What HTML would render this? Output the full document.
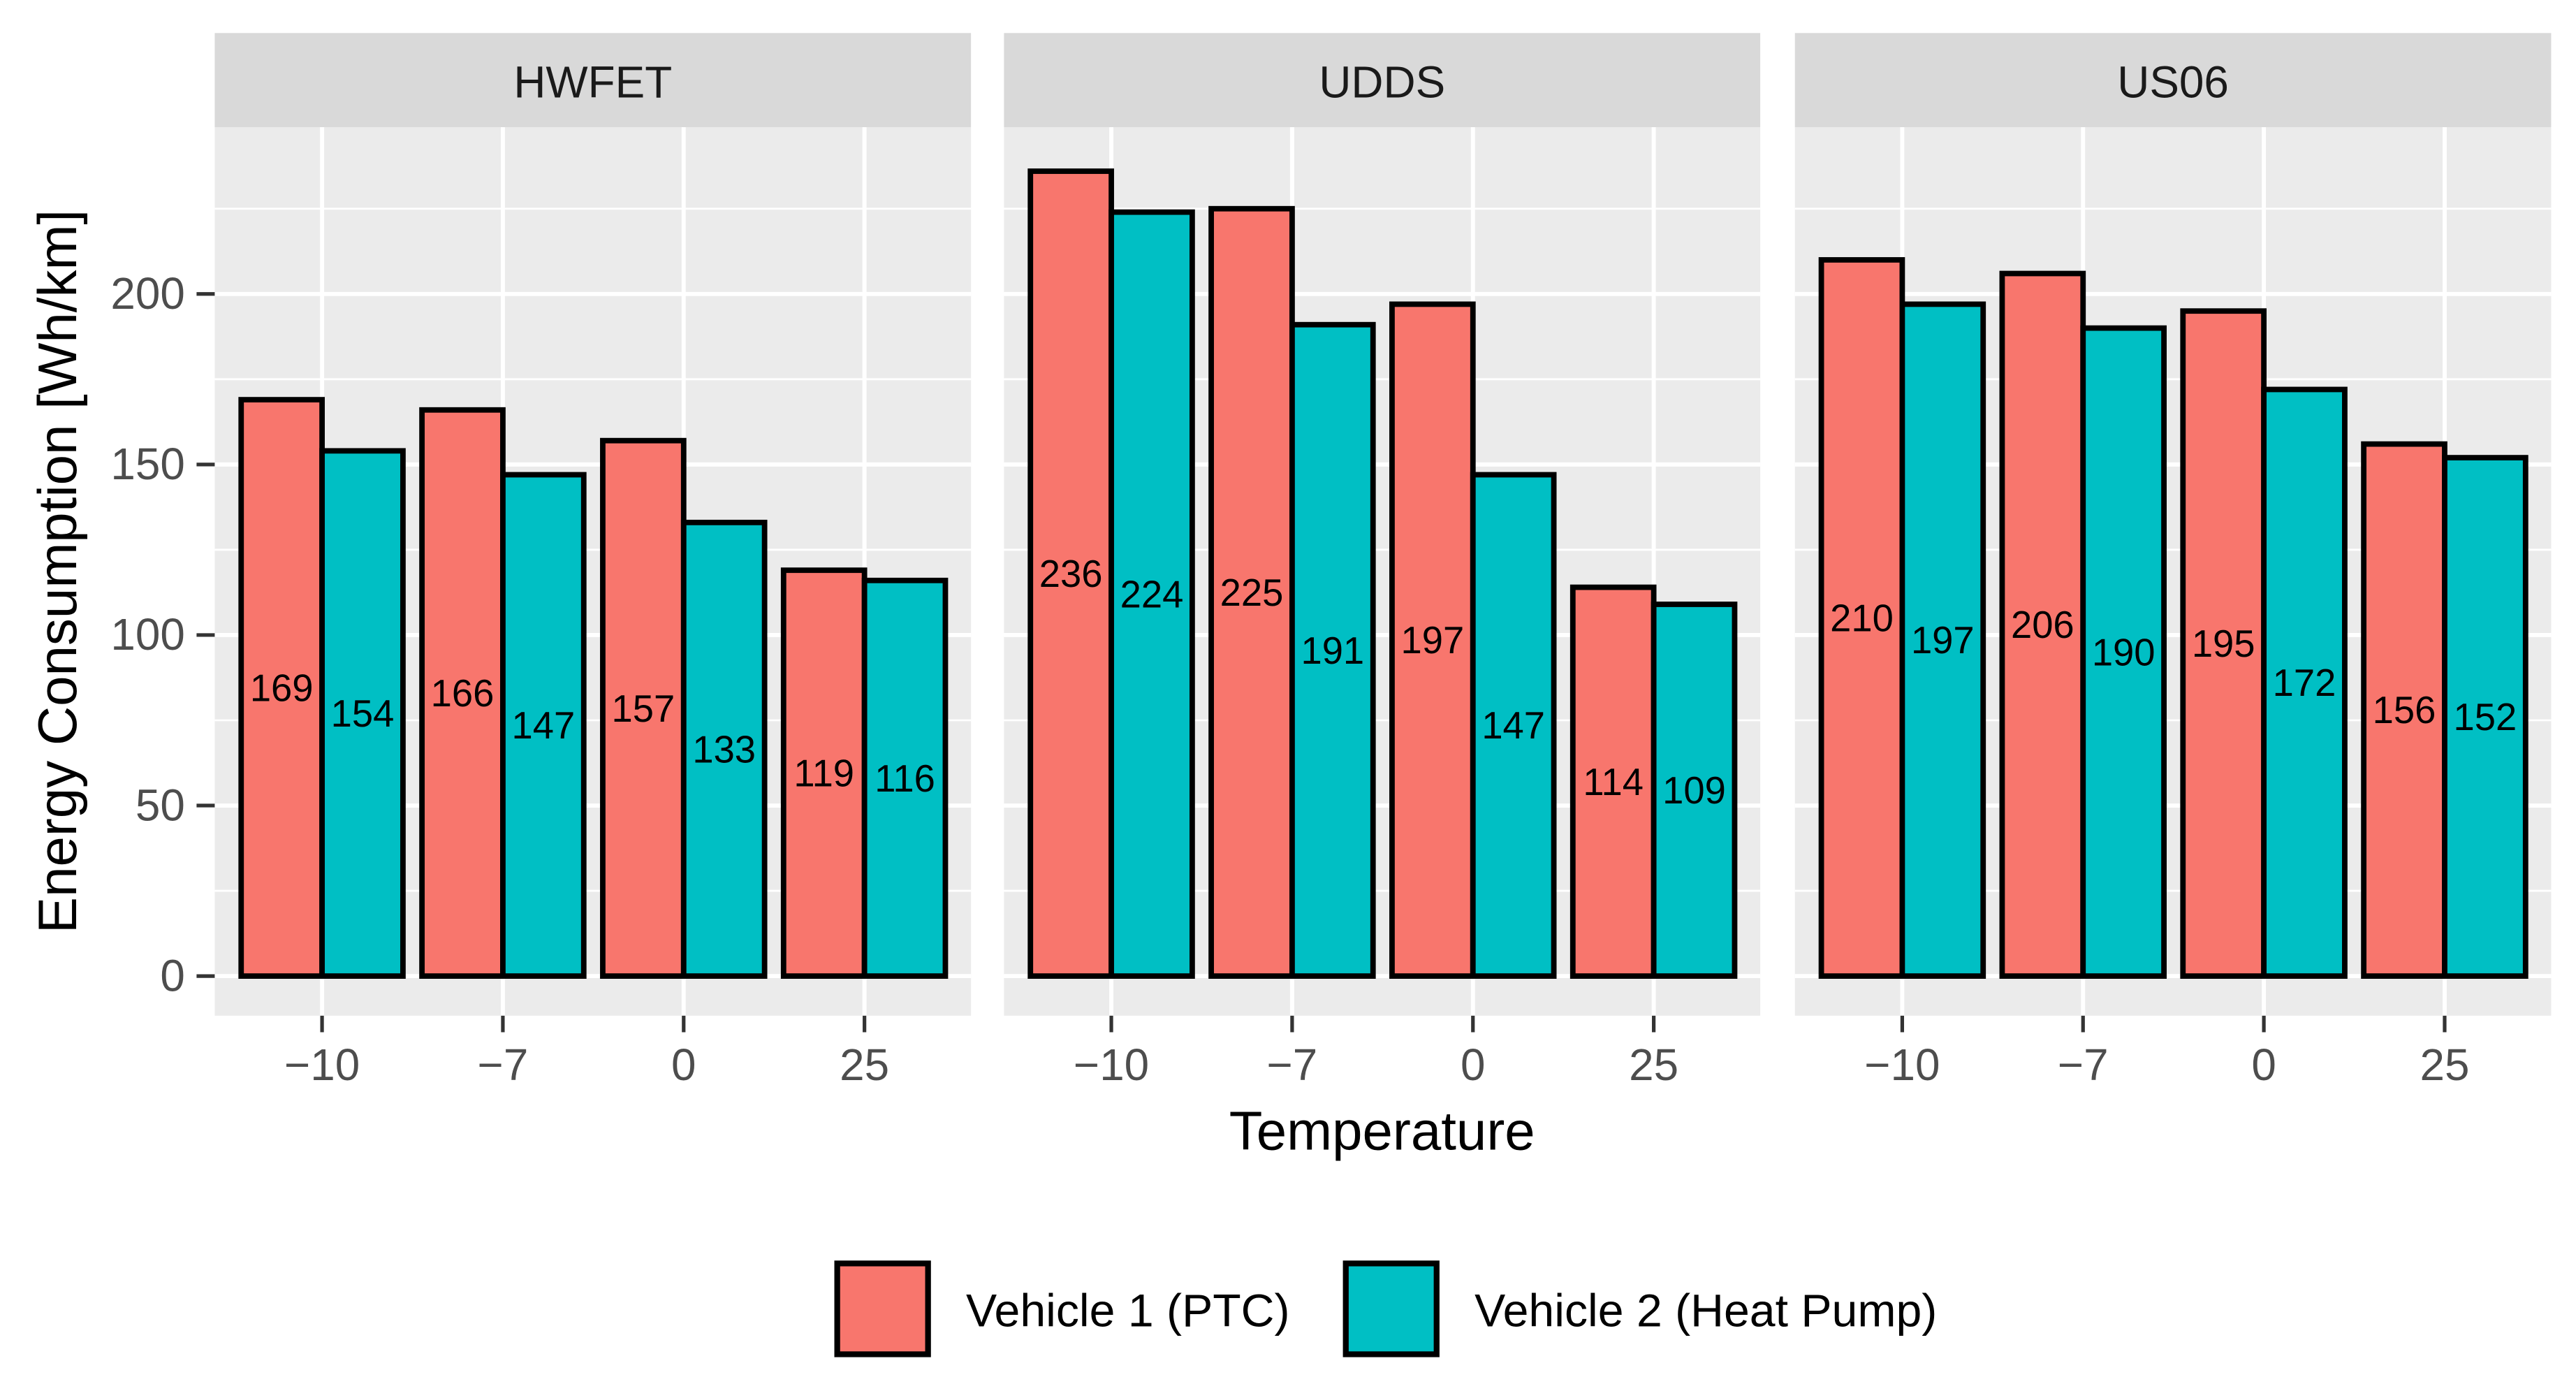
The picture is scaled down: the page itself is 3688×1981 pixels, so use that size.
<!DOCTYPE html>
<html><head><meta charset="utf-8"><style>
html,body{margin:0;padding:0;background:#fff;}
svg{display:block;font-family:"Liberation Sans",Arial,sans-serif;}
</style></head><body>
<svg id="chart" width="3688" height="1981" viewBox="0 0 1560 838" xmlns="http://www.w3.org/2000/svg">
<g id="plot"></g>
<text x="0" y="0" transform="translate(46,346) rotate(-90)" text-anchor="middle" font-size="33" fill="#000">Energy Consumption [Wh/km]</text>
<text x="837" y="696" text-anchor="middle" font-size="33" fill="#000">Temperature</text>
<g>
<rect x="507" y="765" width="55" height="55" fill="#F8766D" stroke="#000" stroke-width="3.5"/>
<text x="585" y="803" font-size="28" fill="#000">Vehicle 1 (PTC)</text>
<rect x="815" y="765" width="55" height="55" fill="#00BFC4" stroke="#000" stroke-width="3.5"/>
<text x="893" y="803" font-size="28" fill="#000">Vehicle 2 (Heat Pump)</text>
</g>
</svg>
<script>
const panels = ["HWFET", "UDDS", "US06"];
const categories = ["\u221210", "\u22127", "0", "25"];
const ptcValues = [[169,166,157,119],[236,225,197,114],[210,206,195,156]];
const heatPumpValues = [[154,147,133,116],[224,191,147,109],[197,190,172,152]];
const yTicks = [0, 50, 100, 150, 200];
const yMinor = [25, 75, 125, 175, 225];

const NS = "http://www.w3.org/2000/svg";
const plot = document.getElementById("plot");
const panelX = [130, 608, 1087], panelW = 458;
const stripTop = 20, stripBot = 77, panelBot = 615;
const y0 = 591, pxPerUnit = (591 - 178) / 200;
function yScale(v){ return y0 - v * pxPerUnit; }
function xScale(p, i){ return panelX[p] + 65 + i * 109.5; }
function mk(tag, attrs, parent){
  const e = document.createElementNS(NS, tag);
  for (const k in attrs) e.setAttribute(k, attrs[k]);
  (parent || plot).appendChild(e);
  return e;
}
const bw = 49;
panels.forEach((name, p) => {
  const g = mk("g", {});
  
  
  const strip = mk("rect", {x: panelX[p], y: stripTop, width: panelW, height: stripBot - stripTop, fill: "#D9D9D9"}, g);
  
  
  const st = mk("text", {x: panelX[p] + panelW/2, y: 59, "text-anchor": "middle", "font-size": 27, fill: "#1a1a1a"}, g);
  st.textContent = name;
  
  
  const bg = mk("rect", {x: panelX[p], y: stripBot, width: panelW, height: panelBot - stripBot, fill: "#EBEBEB"}, g);
  
  
  yMinor.forEach(v => {
    const l = mk("line", {x1: panelX[p], x2: panelX[p] + panelW, y1: yScale(v), y2: yScale(v), stroke: "#fff", "stroke-width": 1.2}, g);
    
    
  });
  yTicks.forEach(v => {
    const l = mk("line", {x1: panelX[p], x2: panelX[p] + panelW, y1: yScale(v), y2: yScale(v), stroke: "#fff", "stroke-width": 2.5}, g);
    
    
  });
  categories.forEach((c, i) => {
    const x = xScale(p, i);
    const l = mk("line", {x1: x, x2: x, y1: stripBot, y2: panelBot, stroke: "#fff", "stroke-width": 2.5}, g);
    
    
    const t = mk("line", {x1: x, x2: x, y1: panelBot, y2: panelBot + 10, stroke: "#333", "stroke-width": 2.2}, g);
    
    
    const tl = mk("text", {x: x, y: 654, "text-anchor": "middle", "font-size": 27, fill: "#4d4d4d"}, g);
    tl.textContent = c;
    
    
    [[ptcValues[p][i], "#F8766D", x - bw, "ptc"], [heatPumpValues[p][i], "#00BFC4", x, "heat-pump"]].forEach(([v, col, bx, s]) => {
      const r = mk("rect", {x: bx, y: yScale(v), width: bw, height: y0 - yScale(v), fill: col, stroke: "#000", "stroke-width": 3.3}, g);
      
      
      const lab = mk("text", {x: bx + bw/2, y: yScale(v/2) + 8, "text-anchor": "middle", "font-size": 23, fill: "#000"}, g);
      lab.textContent = v;
      
      
    });
  });
});
yTicks.forEach(v => {
  const t = mk("line", {x1: 119, x2: 130, y1: yScale(v), y2: yScale(v), stroke: "#333", "stroke-width": 2.2});
  
  
  const tl = mk("text", {x: 112, y: yScale(v) + 9, "text-anchor": "end", "font-size": 27, fill: "#4d4d4d"});
  tl.textContent = v;
  
  
});
</script>
</body></html>
